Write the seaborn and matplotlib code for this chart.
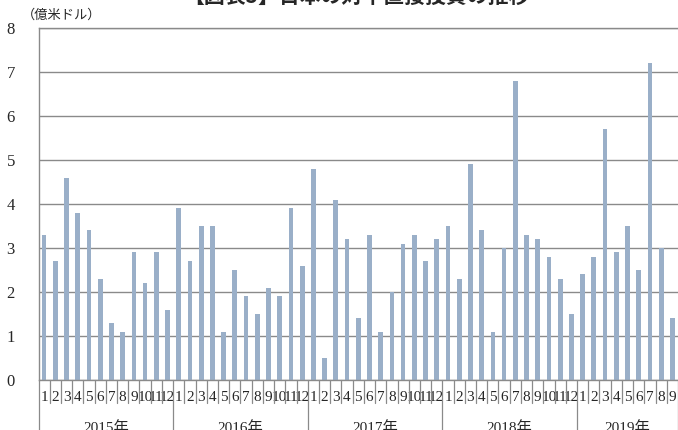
import matplotlib
matplotlib.use("Agg")
import matplotlib.pyplot as plt
import matplotlib.transforms as mtransforms
import seaborn as sns
import pandas as pd

# monthly values, 億米ドル
years = ["2015年", "2016年", "2017年", "2018年", "2019年"]
v2015 = [3.3, 2.7, 4.6, 3.8, 3.4, 2.3, 1.3, 1.1, 2.9, 2.2, 2.9, 1.6]
v2016 = [3.9, 2.7, 3.5, 3.5, 1.1, 2.5, 1.9, 1.5, 2.1, 1.9, 3.9, 2.6]
v2017 = [4.8, 0.5, 4.1, 3.2, 1.4, 3.3, 1.1, 2.0, 3.1, 3.3, 2.7, 3.2]
v2018 = [3.5, 2.3, 4.9, 3.4, 1.1, 3.0, 6.8, 3.3, 3.2, 2.8, 2.3, 1.5]
v2019 = [2.4, 2.8, 5.7, 2.9, 3.5, 2.5, 7.2, 3.0, 1.4]
title = "【図表5】日本の対中直接投資の推移"
unit = "（億米ドル）"

rows = []
for y, vals in zip(years, [v2015, v2016, v2017, v2018, v2019]):
    for m, v in enumerate(vals, start=1):
        rows.append({"year": y, "month": m, "value": v})
df = pd.DataFrame(rows)
df["idx"] = range(len(df))

sns.set_style("white")
plt.rcParams["font.family"] = ["Liberation Serif", "Noto Sans CJK JP"]

fig = plt.figure(figsize=(6.78, 4.3), dpi=100)
ax = fig.add_axes([38.5 / 678, 50 / 430, 1 - 38.5 / 678, 352 / 430])
ax.set_axisbelow(True)

sns.barplot(data=df, x="idx", y="value", color="#9AAFC8", width=0.42,
            saturation=1, linewidth=0, ax=ax)

n = len(df)
ax.set_xlim(-0.5, n - 0.5)
ax.set_ylim(0, 8)
ax.set_yticks(range(0, 9))
ax.set_yticklabels([str(i) for i in range(0, 9)], fontsize=12)
ax.tick_params(axis="y", length=0, pad=17)
ax.yaxis.grid(True, color="#8a8a8a", linewidth=1)
ax.set_xlabel("")
ax.set_ylabel("")

ax.set_xticks(df["idx"])
ax.set_xticklabels(df["month"].astype(str), fontsize=11)
ax.tick_params(axis="x", length=0, pad=8)

ax.spines["right"].set_visible(False)
for s in ["left", "top", "bottom"]:
    ax.spines[s].set_color("#8a8a8a")
    ax.spines[s].set_linewidth(1)

# separators below the axis
trans = mtransforms.blended_transform_factory(ax.transData, ax.transAxes)
starts = df.index[df["month"] == 1].tolist()
for i in range(n + 1):
    bottom = -0.16 if (i in starts or i == n) else -0.065
    ax.plot([i - 0.5, i - 0.5], [0, bottom], transform=trans, color="#8a8a8a",
            linewidth=0.9, clip_on=False)

# year labels
for y in years:
    sub = df[df["year"] == y]
    mid = (sub["idx"].min() + sub["idx"].max()) / 2
    ax.text(mid, -0.117, y, transform=trans, ha="center", va="top", fontsize=11)

fig.text(22 / 678, 1 - 15 / 430, unit, fontsize=9.5, ha="left", va="center")
fig.text(0.525, 1.008, title, fontsize=15, fontweight="bold", ha="center",
         va="center", family=["Noto Sans CJK JP"])

fig.savefig("out.png", dpi=100)
